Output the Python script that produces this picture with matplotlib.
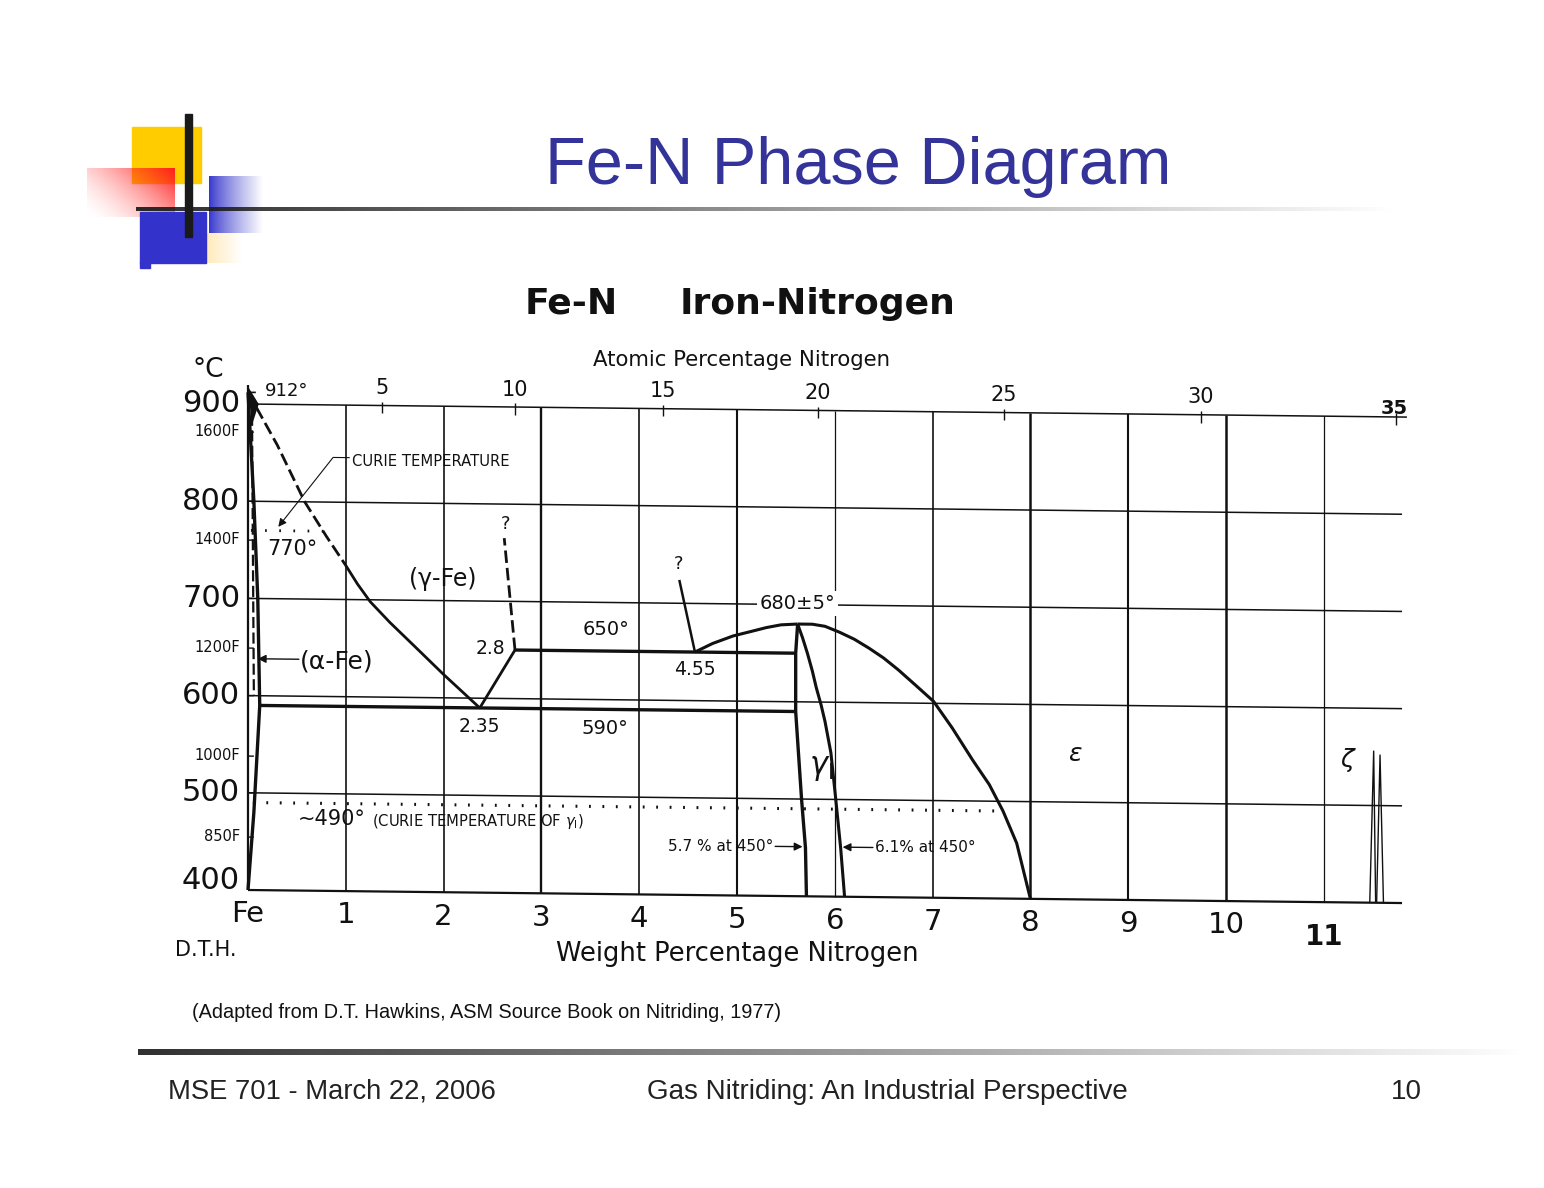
import numpy as np
import matplotlib

matplotlib.use("Agg")
import matplotlib.pyplot as plt  # noqa: E402
from matplotlib.transforms import Affine2D  # noqa: E402

plt.rcParams["font.family"] = "DejaVu Sans"
plt.rcParams["mathtext.fontset"] = "dejavusans"

W, H = 1544, 1188
INK = "#111111"
BLUE = "#333399"
SLIDE_FONT = "Liberation Sans"

# --- chart values (weight % N, degrees C) -----------------------------------
degc_ticks = [400, 500, 600, 700, 800, 900]
degf_ticks = [1600, 1400, 1200, 1000, 850]
wt_ticks = list(range(0, 12))
wt_labels = ["Fe", "1", "2", "3", "4", "5", "6", "7", "8", "9", "10", "11"]
at_labels = ["5", "10", "15", "20", "25", "30", "35"]
at_pos = [1.37, 2.73, 4.24, 5.83, 7.73, 9.74, 11.74]   # wt% where drawn

alpha_x = [0.00, 0.06, 0.10, 0.12, 0.06, 0.00]
alpha_t = [912, 800, 700, 590, 480, 400]
alpha_dash_x = [0.04, 0.05, 0.06]
alpha_dash_t = [905, 750, 600]

gamma_dash_x = [0.00, 0.30, 0.58, 0.80, 1.00]
gamma_dash_t = [912, 858, 800, 765, 735]
gamma_x = [1.00, 1.12, 1.25, 1.45, 1.70, 2.00, 2.37]
gamma_t = [735, 716, 698, 677, 653, 624, 590]

eut_x, eut_t = [2.37, 2.73], [590, 650]
q1_x, q1_t = [2.73, 2.62], [650, 765]
iso650_x, iso650_t = [2.73, 5.60], [650, 650]
iso590_x, iso590_t = [0.12, 5.60], [590, 590]
q2_x, q2_t = [4.57, 4.41], [650, 724]

dome_x = [4.57, 4.75, 4.96, 5.15, 5.30, 5.45, 5.62]
dome_t = [650, 659, 667, 672, 676, 679, 680]
eps_x = [5.62, 5.77, 5.90, 6.05, 6.20, 6.35, 6.50, 6.65, 6.82, 7.01, 7.20,
         7.41, 7.58, 7.72, 7.86, 8.00]
eps_t = [680, 680, 678, 672, 665, 656, 646, 634, 619, 602, 575, 542, 517,
         490, 457, 400]
gp_left_x = [5.62, 5.60, 5.60, 5.66, 5.70, 5.71]
gp_left_t = [680, 650, 590, 500, 450, 400]
gp_right_x = [5.62, 5.67, 5.72, 5.77, 5.81, 5.86, 5.90, 5.96, 6.01, 6.06, 6.10]
gp_right_t = [680, 666, 650, 632, 615, 597, 580, 548, 500, 450, 400]

curie_a_x, curie_a_t = [0.03, 0.77], [770, 770]
curie_g_x, curie_g_t = [0.05, 7.73], [490, 490]

zeta_a_x, zeta_a_t = [11.47, 11.51, 11.53], [400, 556, 400]
zeta_b_x, zeta_b_t = [11.54, 11.575, 11.61], [400, 552, 400]

wedge_x = [0.00, 0.11, 0.04]
wedge_t = [918, 900, 878]

# --- layout: data -> pixels --------------------------------------------------
X0, SX = 248, 97.8          # px of Fe, px per wt%
Y0, SY = 890, 0.972         # px of 400 C (left edge), px per degree
XMAX, TMAX = 12.0, 925
SKEW = 0.0113               # the scanned grid drops to the right

fig = plt.figure(figsize=(W / 100, H / 100), dpi=100)

# slide background axes in pixel coordinates
bg = fig.add_axes([0, 0, 1, 1])


def hgrad(x0, x1, y0, y1, rgb, a0, a1, power=1.0, z=1):
    u = np.linspace(0, 1, 256) ** power
    arr = np.zeros((1, 256, 4))
    arr[..., :3] = rgb
    arr[0, :, 3] = a0 + (a1 - a0) * u
    bg.imshow(arr, extent=(x0, x1, y1, y0), aspect="auto",
              interpolation="bilinear", zorder=z)


# logo
bg.add_patch(plt.Rectangle((132, 127), 69, 56, color="#FFCC00", zorder=2))
ny, nx = 60, 100
u = np.linspace(0, 1, nx)[None, :]
v = np.linspace(0, 1, ny)[:, None]
red = np.zeros((ny, nx, 4))
red[..., 0], red[..., 1], red[..., 2] = 1.0, 0.12, 0.12
red[..., 3] = np.clip(0.62 * u + 0.38 * (1 - v), 0, 1) ** 1.6
bg.imshow(red, extent=(87, 175, 217, 168), aspect="auto",
          interpolation="bilinear", zorder=3)
hgrad(209, 263, 176, 233, (0.2, 0.2, 0.8), 1.0, 0.0, power=0.8, z=3)
hgrad(206, 242, 233, 263, (1.0, 0.85, 0.5), 0.55, 0.0, z=3)
bg.add_patch(plt.Rectangle((140, 212), 66, 51, color="#3333CC", zorder=4))
bg.add_patch(plt.Rectangle((140, 262), 10, 6, color="#3333CC", zorder=4))
bg.add_patch(plt.Rectangle((185, 114), 7, 123, color="#1a1a1a", zorder=6))
hgrad(136, 1400, 207, 211, (0.1, 0.1, 0.1), 0.92, 0.0, z=5)
hgrad(138, 1530, 1049, 1055, (0.1, 0.1, 0.1), 0.9, 0.0, z=5)

bg.text(858, 184, "Fe-N Phase Diagram", color=BLUE, fontsize=48,
        family=SLIDE_FONT, ha="center", va="baseline")
bg.text(525, 314, "Fe-N", fontsize=26, fontweight="bold", color=INK,
        va="baseline")
bg.text(680, 314, "Iron-Nitrogen", fontsize=26, fontweight="bold", color=INK,
        va="baseline")
bg.text(192, 1013, "(Adapted from D.T. Hawkins, ASM Source Book on Nitriding, 1977)",
        fontsize=14.3, family=SLIDE_FONT, color=INK, va="center")
bg.text(168, 1092, "MSE 701 - March 22, 2006", fontsize=19.7, family=SLIDE_FONT,
        color="#222222", va="center")
bg.text(887, 1092, "Gas Nitriding: An Industrial Perspective", fontsize=20,
        family=SLIDE_FONT, color="#222222", va="center", ha="center")
bg.text(1422, 1092, "10", fontsize=20, family=SLIDE_FONT, color="#222222",
        va="center", ha="right")

bg.set_xlim(0, W)
bg.set_ylim(H, 0)
bg.axis("off")

# --- phase diagram axes --------------------------------------------------------
ax = fig.add_axes([X0 / W, (H - Y0) / H, XMAX * SX / W, (TMAX - 400) * SY / H])
ax.set_xlim(0, XMAX)
ax.set_ylim(400, TMAX)
ax.axis("off")

# shear in display pixels so the grid tilts like the scan
tr = ax.transData + Affine2D(np.array([[1.0, 0.0, 0.0],
                                       [-SKEW, 1.0, SKEW * X0],
                                       [0.0, 0.0, 1.0]]))


def line(x, t, lw=2.2, ls="-", **kw):
    ax.plot(x, t, color=INK, lw=lw, ls=ls, clip_on=False, transform=tr,
            solid_capstyle="butt", **kw)


def txt(x, t, s, size, **kw):
    kw.setdefault("va", "center")
    kw.setdefault("color", INK)
    ax.text(x, t, s, fontsize=size, transform=tr, **kw)


def arrow(x0, t0, x1, t1, lw=1.0):
    ax.annotate("", xy=(x1, t1), xytext=(x0, t0), xycoords=tr, textcoords=tr,
                arrowprops=dict(arrowstyle="-|>", lw=lw, color=INK,
                                mutation_scale=12, shrinkA=0, shrinkB=0))


# grid
for T in degc_ticks[1:]:
    line([0, 11.85 if T == 900 else 11.8], [T, T], lw=1.1)
line([0, 11.8], [400, 400], lw=1.6)
vlw = {3: 1.7, 5: 1.5, 8: 1.8, 9: 1.5, 10: 1.8, 6: 0.9, 11: 0.9}
for x in wt_ticks[1:]:
    line([x, x], [400, 900], lw=vlw.get(x, 1.2))
line([0, 0], [400, 920], lw=1.6)
line([0, 0.08], [912, 912], lw=1.2)
for T in degc_ticks + [(f - 32) * 5 / 9 for f in degf_ticks]:
    line([0, 0.06], [T, T], lw=1.0)
for xp in at_pos:
    line([xp, xp], [892, 904], lw=1.0)

# phase boundaries
line(alpha_x, alpha_t, lw=2.4)
line(alpha_dash_x, alpha_dash_t, lw=1.6, ls=(0, (5, 2)))
ax.fill(wedge_x, wedge_t, color=INK, lw=0, clip_on=False, transform=tr)
line(gamma_dash_x, gamma_dash_t, lw=2.0, ls=(0, (4.5, 1.8)))
line(gamma_x, gamma_t, lw=2.0)
line(eut_x, eut_t, lw=2.0)
line(q1_x, q1_t, lw=2.0, ls=(0, (4.5, 1.8)))
line(iso650_x, iso650_t, lw=2.4)
line(iso590_x, iso590_t, lw=2.4)
line(q2_x, q2_t, lw=1.8)
line(dome_x, dome_t, lw=2.2)
line(eps_x, eps_t, lw=2.2)
line(gp_left_x, gp_left_t, lw=2.4)
line(gp_right_x, gp_right_t, lw=2.2)
line(curie_a_x, curie_a_t, lw=2.0, ls=(0, (0.6, 4.5)))
line(curie_g_x, curie_g_t, lw=2.2, ls=(0, (0.6, 3.8)))
line(zeta_a_x, zeta_a_t, lw=1.0)
line(zeta_b_x, zeta_b_t, lw=1.0)

# axis labels
for T in degc_ticks:
    txt(-0.08, T + (10 if T == 400 else 0), str(T), 22, ha="right")
for f in degf_ticks:
    txt(-0.08, (f - 32) * 5 / 9, f"{f}F", 10.5, ha="right")
txt(-0.41, 935, "°C", 19, ha="center")
for x, lab in zip(wt_ticks, wt_labels):
    if lab == "11":
        txt(x, 364, lab, 20, ha="center", fontweight="bold")
    else:
        txt(x, 375, lab, 21, ha="center")
for xp, lab in zip(at_pos, at_labels):
    if lab == "35":
        txt(xp - 0.02, 909, lab, 14, ha="center", fontweight="bold")
    else:
        txt(xp, 918, lab, 15, ha="center")
txt(5.05, 951, "Atomic Percentage Nitrogen", 15.3, ha="center")
txt(5.0, 340, "Weight Percentage Nitrogen", 18.5, ha="center")
txt(-0.75, 337, "D.T.H.", 15, ha="left")

# annotations
txt(0.17, 914, "912°", 13)
txt(1.06, 842, "CURIE TEMPERATURE", 10.6)
line([1.04, 0.87], [846, 846], lw=0.8)
arrow(0.87, 846, 0.31, 774, lw=0.8)
txt(0.2, 751, "770°", 15)
txt(2.63, 780, "?", 13, ha="center")
txt(1.99, 722, "(γ-Fe)", 17, ha="center")
txt(0.53, 636, "(α-Fe)", 18)
arrow(0.52, 638, 0.1, 638)
txt(2.63, 651, "2.8", 13.5, ha="right")
txt(2.37, 571, "2.35", 13.5, ha="center")
txt(3.66, 672, "650°", 14, ha="center")
txt(3.65, 570, "590°", 14, ha="center")
txt(4.40, 740, "?", 13, ha="center")
txt(4.57, 632, "4.55", 13.5, ha="center")
txt(5.62, 701, "680±5°", 14, ha="center",
    bbox=dict(fc="white", ec="none", pad=2))
txt(5.86, 532, r"$\gamma_{\mathrm{I}}$", 22, ha="center")
txt(8.46, 550, r"$\epsilon$", 18, ha="center")
txt(11.25, 547, r"$\zeta$", 18, ha="center")
txt(0.51, 474, "~490°", 15)
txt(1.27, 472, r"(CURIE TEMPERATURE OF $\gamma_{\mathrm{I}}$)", 10.6)
txt(5.37, 451, "5.7 % at 450°", 11, ha="right")
arrow(5.39, 451, 5.67, 451)
txt(6.41, 451, "6.1% at 450°", 11, ha="left")
arrow(6.39, 451, 6.08, 451)

fig.savefig("out.png", dpi=100)
